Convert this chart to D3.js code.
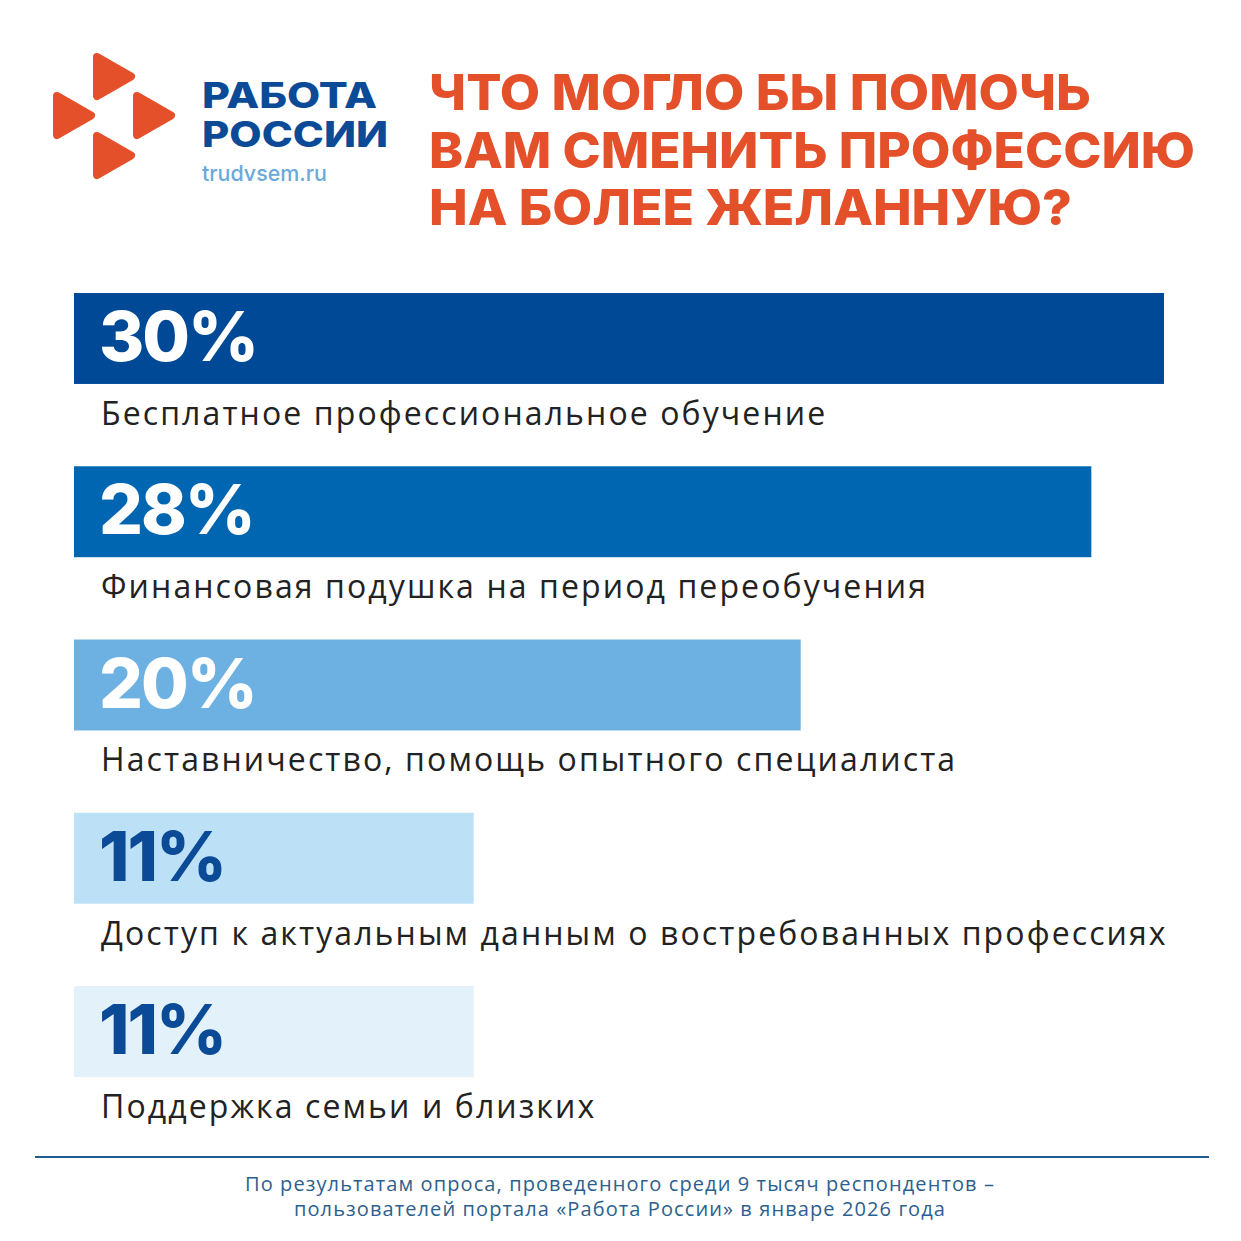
<!DOCTYPE html>
<html>
<head>
<meta charset="utf-8">
<script src="https://cdn.jsdelivr.net/npm/d3@7"></script>
<style>
  html, body { margin: 0; padding: 0; background: #fff; }
</style>
</head>
<body>
<div id="chart"></div>
<script>
// survey answers, percent of respondents
var categories = [
  "Бесплатное профессиональное обучение",
  "Финансовая подушка на период переобучения",
  "Наставничество, помощь опытного специалиста",
  "Доступ к актуальным данным о востребованных профессиях",
  "Поддержка семьи и близких"
];
var values = [30, 28, 20, 11, 11];
var valueLabels = ["30%", "28%", "20%", "11%", "11%"];

var titleLines = ["ЧТО МОГЛО БЫ ПОМОЧЬ", "ВАМ СМЕНИТЬ ПРОФЕССИЮ", "НА БОЛЕЕ ЖЕЛАННУЮ?"];
var logoLines = ["РАБОТА", "РОССИИ"];
var logoSite = "trudvsem.ru";
var footnote = [
  "По результатам опроса, проведенного среди 9 тысяч респондентов –",
  "пользователей портала «Работа России» в январе 2026 года"
];

var barColors = ["#004996", "#0066b1", "#6cb1e1", "#bce0f5", "#e3f1fb"];
var valueColors = ["#ffffff", "#ffffff", "#ffffff", "#0a4a96", "#0a4a96"];
var orange = "#e4502a";
var navy = "#0a4a96";

var w = 1241, h = 1241;

var svg = d3.select("#chart")
  .append("svg")
  .attr("width", w)
  .attr("height", h)
  .style("font-family", "Inter, 'Open Sans', sans-serif");

// logo: four rounded play triangles
var tri = d3.line();
var triShape = [[0, 0], [34, 19.5], [0, 39]];
[[97, 57], [57, 96], [137, 96], [97, 136]].forEach(function(p) {
  svg.append("path")
    .attr("d", tri(triShape.map(function(q) { return [q[0] + p[0], q[1] + p[1]]; })) + "Z")
    .attr("fill", orange)
    .attr("stroke", orange)
    .attr("stroke-width", 8)
    .attr("stroke-linejoin", "round");
});

svg.selectAll(".logoText")
  .data(logoLines)
  .enter().append("text")
  .attr("class", "logoText")
  .attr("x", 202)
  .attr("y", function(d, i) { return 108 + i * 39; })
  .attr("font-size", 35)
  .attr("font-weight", 800)
  .attr("fill", navy)
  .attr("textLength", function(d, i) { return i === 0 ? 175 : 186; })
  .attr("lengthAdjust", "spacingAndGlyphs")
  .text(function(d) { return d; });

svg.append("text")
  .attr("x", 202)
  .attr("y", 181)
  .attr("font-size", 22)
  .attr("font-weight", 500)
  .attr("fill", "#6aaad9")
  .attr("textLength", 125)
  .attr("lengthAdjust", "spacingAndGlyphs")
  .text(logoSite);

// title
svg.selectAll(".title")
  .data(titleLines)
  .enter().append("text")
  .attr("class", "title")
  .attr("x", 429)
  .attr("y", function(d, i) { return 110 + i * 57.5; })
  .attr("font-size", 50)
  .attr("font-weight", 800)
  .attr("fill", orange)
  .attr("textLength", function(d, i) { return [662, 766, 643][i]; })
  .attr("lengthAdjust", "spacingAndGlyphs")
  .text(function(d) { return d; });

// bars
var x = d3.scaleLinear().domain([0, 30]).range([74, 1164]);
var y = d3.scaleBand().domain(categories).range([293, 1077]).paddingInner(0.475).paddingOuter(0);

var g = svg.selectAll(".row")
  .data(categories)
  .enter().append("g")
  .attr("class", "row");

g.append("rect")
  .attr("x", x(0))
  .attr("y", function(d) { return y(d); })
  .attr("width", function(d, i) { return x(values[i]) - x(0); })
  .attr("height", y.bandwidth())
  .attr("fill", function(d, i) { return barColors[i]; });

g.append("text")
  .attr("x", x(0) + 25)
  .attr("y", function(d) { return y(d) + 68; })
  .attr("font-size", 69)
  .attr("font-weight", 800)
  .attr("letter-spacing", -2)
  .attr("fill", function(d, i) { return valueColors[i]; })
  .text(function(d, i) { return valueLabels[i]; });

g.append("text")
  .attr("x", x(0) + 27)
  .attr("y", function(d) { return y(d) + y.bandwidth() + 41; })
  .attr("font-family", "'Open Sans', sans-serif")
  .attr("font-size", 32)
  .attr("letter-spacing", 2.1)
  .attr("fill", "#222")
  .text(function(d) { return d; });

// footer
svg.append("line")
  .attr("x1", 35).attr("x2", 1209)
  .attr("y1", 1157).attr("y2", 1157)
  .attr("stroke", "#1f5b8c")
  .attr("stroke-width", 2);

svg.selectAll(".foot")
  .data(footnote)
  .enter().append("text")
  .attr("class", "foot")
  .attr("x", 620)
  .attr("y", function(d, i) { return 1191 + i * 25; })
  .attr("text-anchor", "middle")
  .attr("font-family", "'Open Sans', sans-serif")
  .attr("font-size", 20)
  .attr("letter-spacing", 1.1)
  .attr("fill", "#2d5f8e")
  .text(function(d) { return d; });
</script>
</body>
</html>
